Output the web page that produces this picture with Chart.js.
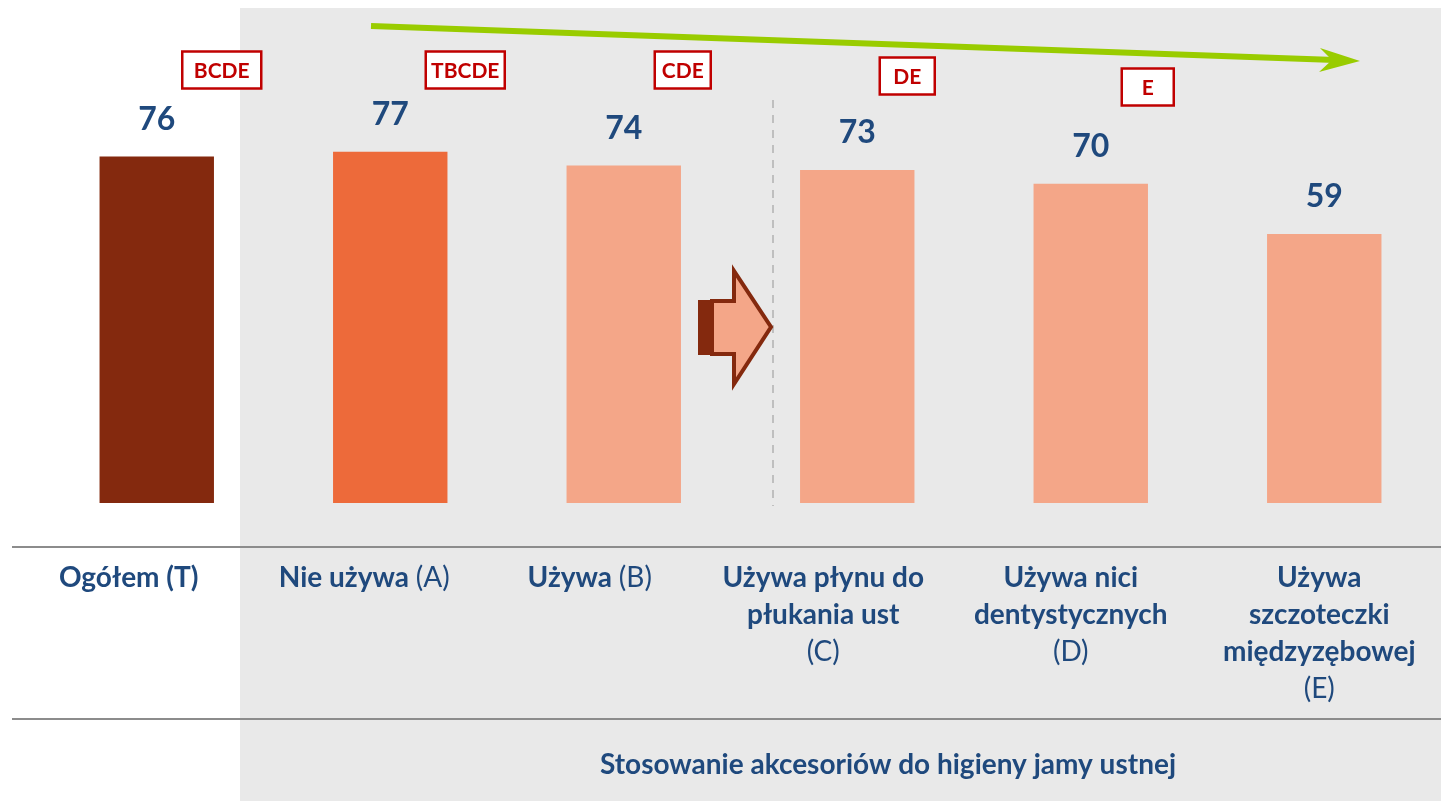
<!DOCTYPE html>
<html>
<head>
<meta charset="utf-8">
<script src="https://cdn.jsdelivr.net/npm/chart.js@4"></script>
<style>
  html, body { margin: 0; padding: 0; background: #ffffff; }
  #chartBox { width: 1441px; height: 801px; }
</style>
</head>
<body>
<div id="chartBox"><canvas id="hygieneChart" width="1441" height="801"></canvas></div>
<script>
// categories (name lines + group letter) and values
const categoryNames = [
    ['Ogółem (T)'],
    ['Nie używa'],
    ['Używa'],
    ['Używa płynu do', 'płukania ust'],
    ['Używa nici', 'dentystycznych'],
    ['Używa', 'szczoteczki', 'międzyzębowej']
];
const categoryLetters = ['', '(A)', '(B)', '(C)', '(D)', '(E)'];
const scores = [76, 77, 74, 73, 70, 59];
const significance = ['BCDE', 'TBCDE', 'CDE', 'DE', 'E', ''];
const groupTitle = 'Stosowanie akcesoriów do higieny jamy ustnej';

const barColors = ['#84290e', '#ed6a3a', '#f4a688', '#f4a688', '#f4a688', '#f4a688'];
const navy = '#1f497d';
const fontFamily = 'Lato, "Open Sans", sans-serif';

// where the labels and the letter boxes sit, relative to each bar
const labelShift = [-28, -26, -34, -34, -20, -5];
const boxShift = [65, 75, 59, 50, 57, 0];
const boxY = [70, 70, 70, 76, 87, 0];
const boxW = [79, 79, 56, 55, 52, 0];

// background, separators, trend arrow, block arrow, texts
const decorations = {
    id: 'decorations',
    beforeDraw(chart) {
        const ctx = chart.ctx;
        ctx.save();
        ctx.fillStyle = '#e9e9e9';
        ctx.fillRect(240, 8, 1441 - 240, 801 - 8);
        ctx.restore();
    },
    afterDatasetsDraw(chart) {
        const ctx = chart.ctx;
        const meta = chart.getDatasetMeta(0);
        ctx.save();

        // separator lines
        ctx.strokeStyle = '#8c8c8c';
        ctx.lineWidth = 2;
        [547, 719].forEach(y => {
            ctx.beginPath();
            ctx.moveTo(12, y);
            ctx.lineTo(1441, y);
            ctx.stroke();
        });

        // dashed divider
        ctx.strokeStyle = '#bfbfbf';
        ctx.lineWidth = 2;
        ctx.setLineDash([8, 7]);
        ctx.beginPath();
        ctx.moveTo(773, 100);
        ctx.lineTo(773, 506);
        ctx.stroke();
        ctx.setLineDash([]);

        // green trend arrow
        ctx.strokeStyle = '#99cc00';
        ctx.fillStyle = '#99cc00';
        ctx.lineWidth = 6;
        ctx.beginPath();
        ctx.moveTo(371, 26);
        ctx.lineTo(1335, 60);
        ctx.stroke();
        ctx.beginPath();
        ctx.moveTo(1360, 61);
        ctx.lineTo(1320, 48);
        ctx.lineTo(1332, 60);
        ctx.lineTo(1319, 72);
        ctx.closePath();
        ctx.fill();

        // block arrow
        ctx.fillStyle = '#84290e';
        ctx.fillRect(698, 300, 16, 55);
        ctx.beginPath();
        ctx.moveTo(712, 301);
        ctx.lineTo(734, 301);
        ctx.lineTo(734, 271);
        ctx.lineTo(771, 327);
        ctx.lineTo(734, 384);
        ctx.lineTo(734, 354);
        ctx.lineTo(712, 354);
        ctx.closePath();
        ctx.fillStyle = '#f4a688';
        ctx.fill();
        ctx.strokeStyle = '#84290e';
        ctx.lineWidth = 4;
        ctx.lineJoin = 'miter';
        ctx.stroke();

        // values above bars
        ctx.fillStyle = navy;
        ctx.font = 'bold 32px ' + fontFamily;
        ctx.textAlign = 'center';
        ctx.textBaseline = 'middle';
        meta.data.forEach((bar, i) => {
            ctx.fillText(String(scores[i]), bar.x, bar.y - 37);
        });

        // significance boxes
        ctx.font = 'bold 21px ' + fontFamily;
        meta.data.forEach((bar, i) => {
            if (!significance[i]) return;
            const cx = bar.x + boxShift[i];
            const w = boxW[i];
            const h = 37;
            ctx.fillStyle = '#ffffff';
            ctx.fillRect(cx - w / 2, boxY[i] - h / 2, w, h);
            ctx.strokeStyle = '#c00000';
            ctx.lineWidth = 2.5;
            ctx.strokeRect(cx - w / 2, boxY[i] - h / 2, w, h);
            ctx.fillStyle = '#c00000';
            ctx.fillText(significance[i], cx, boxY[i] + 1);
        });

        // category labels
        const lineGap = 37;
        const firstLine = 578;
        const boldFont = 'bold 28px ' + fontFamily;
        const plainFont = '28px ' + fontFamily;
        meta.data.forEach((bar, i) => {
            const cx = bar.x + labelShift[i];
            const lines = categoryNames[i];
            const letter = categoryLetters[i];
            ctx.fillStyle = navy;
            if (lines.length === 1 && letter) {
                ctx.font = boldFont;
                const wName = ctx.measureText(lines[0] + ' ').width;
                ctx.font = plainFont;
                const wLetter = ctx.measureText(letter).width;
                const left = cx - (wName + wLetter) / 2;
                ctx.textAlign = 'left';
                ctx.font = boldFont;
                ctx.fillText(lines[0] + ' ', left, firstLine);
                ctx.font = plainFont;
                ctx.fillText(letter, left + wName, firstLine);
                ctx.textAlign = 'center';
            } else {
                ctx.font = boldFont;
                lines.forEach((t, k) => ctx.fillText(t, cx, firstLine + k * lineGap));
                if (letter) {
                    ctx.font = plainFont;
                    ctx.fillText(letter, cx, firstLine + lines.length * lineGap);
                }
            }
        });

        // group title
        ctx.font = 'bold 28px ' + fontFamily;
        ctx.fillText(groupTitle, 888, 765);

        ctx.restore();
    }
};

const ctxBars = document.getElementById('hygieneChart').getContext('2d');
const hygieneChart = new Chart(ctxBars, {
    type: 'bar',
    data: {
        labels: categoryNames.map(n => n.join(' ')),
        datasets: [{
            data: scores,
            backgroundColor: barColors,
            borderWidth: 0,
            barPercentage: 0.49,
            categoryPercentage: 1
        }]
    },
    options: {
        responsive: false,
        animation: false,
        layout: {
            padding: { left: 40, right: 0, top: 0, bottom: 298 }
        },
        plugins: {
            legend: { display: false },
            tooltip: { enabled: false }
        },
        scales: {
            x: { display: false },
            y: { display: false, min: 0, max: 110.3 }
        }
    },
    plugins: [decorations]
});
</script>
</body>
</html>
